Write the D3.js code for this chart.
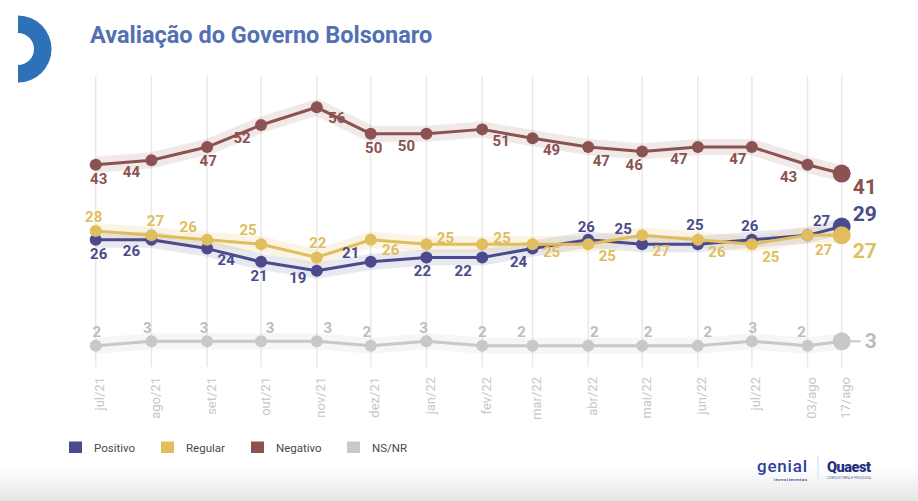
<!DOCTYPE html>
<html>
<head>
<meta charset="utf-8">
<script src="https://cdn.jsdelivr.net/npm/d3@7"></script>
<style>
  html, body { margin: 0; padding: 0; background: #fff; }
  svg { display: block; font-family: Roboto, "Noto Sans", sans-serif; }
</style>
</head>
<body>
<svg id="chart" width="918" height="501"></svg>
<script>
// ---------------- DATA ----------------
const tickLabels = ["jul/21","ago/21","set/21","out/21","nov/21","dez/21","jan/22","fev/22","mar/22","abr/22","mai/22","jun/22","jul/22","03/ago","17/ago"];
// survey dates as placed on the time axis (last point sits ~19 days after 03/ago in the picture)
const dates = ["2021-07-03","2021-08-03","2021-09-03","2021-10-03","2021-11-03","2021-12-03","2022-01-03","2022-02-03","2022-03-03","2022-04-03","2022-05-03","2022-06-03","2022-07-03","2022-08-03","2022-08-22"];
const positivo = [26,26,24,21,19,21,22,22,24,26,25,25,26,27,29];
const regular  = [28,27,26,25,22,26,25,25,25,25,27,26,25,27,27];
const negativo = [43,44,47,52,56,50,50,51,49,47,46,47,47,43,41];
const nsnr     = [2,3,3,3,3,2,3,2,2,2,2,2,3,2,3];
const seriesNames = ["Positivo","Regular","Negativo","NS/NR"];

// ---------------- LAYOUT / STYLE ----------------
const colors = {"Positivo":"#4b4a8d","Regular":"#e0bd5d","Negativo":"#8a5351","NS/NR":"#c8c8c8"};
const labelColors = {"Positivo":"#4b4a8d","Regular":"#e0bd5d","Negativo":"#8a5351","NS/NR":"#bdbdbd"};
// label offsets [dx, dy(baseline)] relative to each point (all but the last)
const labelOffsets = {
  "Negativo": [[3,19],[-20,17],[1,19],[-19,18],[20,16],[3,19],[-20,17],[19,17],[19,17],[13,19],[-8,19],[-19,17],[-14,17],[-19,17]],
  "Regular":  [[-2,-9],[4,-9],[-19,-8],[-13,-9],[1,-9],[20,15],[19,-1],[20,-1],[19,13],[19,17],[19,21],[19,17],[19,18],[16,20]],
  "Positivo": [[3,19],[-20,16],[19,16],[-2,19],[-19,12],[-20,-4],[-4,19],[-19,19],[-14,18],[-2,-8],[-19,-10],[-3,-14],[-2,-9],[14,-9]],
  "NS/NR":    [[1,-8.5],[-4,-8.5],[-3,-8.5],[9,-8.5],[11,-8.5],[-4,-8.5],[-3,-8.5],[0,-8.5],[-11,-8.5],[6,-8.5],[6,-8.5],[10,-8.5],[1,-8.5],[-6,-8.5]]
};
const lastOffsets = {"Negativo":[11,20.5],"Positivo":[11,-5.5],"Regular":[11,22.5],"NS/NR":[23,7]};

const parse = d3.timeParse("%Y-%m-%d");
const dateObjs = dates.map(parse);

const svg = d3.select("#chart");

const x = d3.scaleTime()
  .domain([dateObjs[0], dateObjs[dateObjs.length - 1]])
  .range([95.7, 841.7]);
const y = d3.scaleLinear().domain([0, 60]).range([354.55, 89.64]);

// bottom gradient band
const defs = svg.append("defs");
const grad = defs.append("linearGradient").attr("id","bottomGrad").attr("x1",0).attr("y1",0).attr("x2",0).attr("y2",1);
grad.append("stop").attr("offset","0%").attr("stop-color","#ffffff");
grad.append("stop").attr("offset","100%").attr("stop-color","#e4e4e4");
svg.append("rect").attr("x",0).attr("y",468).attr("width",918).attr("height",33).attr("fill","url(#bottomGrad)");

// logo ring (left)
svg.append("path")
  .attr("transform","translate(18,49)")
  .attr("d", d3.arc()({innerRadius:16, outerRadius:33.5, startAngle:0, endAngle:Math.PI}))
  .attr("fill","#2f71b7");

// title
svg.append("text")
  .attr("x", 90).attr("y", 43)
  .attr("font-size", 23.5).attr("font-weight", 700)
  .attr("fill", "#5270b3")
  .text("Avaliação do Governo Bolsonaro");

// vertical gridlines
svg.append("g").selectAll("line")
  .data(dateObjs).join("line")
  .attr("x1", d => x(d)).attr("x2", d => x(d))
  .attr("y1", 75.7).attr("y2", 367)
  .attr("stroke", "#e9e9e9").attr("stroke-width", 1.5);

// x-axis tick labels (rotated)
svg.append("g").selectAll("text")
  .data(dateObjs).join("text")
  .attr("transform", d => `translate(${x(d) + 8.5},377) rotate(-90)`)
  .attr("text-anchor", "end")
  .attr("font-size", 13)
  .attr("fill", "#c6c6c6")
  .text((d, i) => tickLabels[i]);

const seriesData = {"Positivo": positivo, "Regular": regular, "Negativo": negativo, "NS/NR": nsnr};
const drawOrder = ["NS/NR","Negativo","Positivo","Regular"];

const line = d3.line().x((d, i) => x(dateObjs[i])).y(d => y(d));

// halos
const haloOpacity = {"Positivo":0.13,"Regular":0.16,"Negativo":0.13,"NS/NR":0.17};
drawOrder.forEach(name => {
  svg.append("path")
    .attr("d", line(seriesData[name]))
    .attr("fill", "none")
    .attr("stroke", colors[name])
    .attr("stroke-opacity", haloOpacity[name])
    .attr("stroke-width", 16)
    .attr("stroke-linejoin", "round");
});

// lines, points
drawOrder.forEach(name => {
  const vals = seriesData[name];
  const g = svg.append("g");
  g.append("path")
    .attr("d", line(vals))
    .attr("fill", "none")
    .attr("stroke", colors[name])
    .attr("stroke-width", 3)
    .attr("stroke-linejoin", "round");
  if (name === "NS/NR") {
    const lx = x(dateObjs[vals.length - 1]), ly = y(vals[vals.length - 1]);
    g.append("line").attr("x1", lx + 8).attr("x2", lx + 19).attr("y1", ly).attr("y2", ly)
      .attr("stroke", colors[name]).attr("stroke-width", 2);
  }
  g.selectAll("circle")
    .data(vals).join("circle")
    .attr("cx", (d, i) => x(dateObjs[i]))
    .attr("cy", d => y(d))
    .attr("r", (d, i) => i === vals.length - 1 ? 9 : 6)
    .attr("fill", colors[name]);
});

// labels
drawOrder.forEach(name => {
  const vals = seriesData[name];
  const g = svg.append("g").attr("font-weight", 700).attr("fill", labelColors[name]);
  g.selectAll("text")
    .data(vals).join("text")
    .attr("x", (d, i) => x(dateObjs[i]) + (i === vals.length - 1 ? lastOffsets[name][0] : labelOffsets[name][i][0]))
    .attr("y", (d, i) => y(d) + (i === vals.length - 1 ? lastOffsets[name][1] : labelOffsets[name][i][1]))
    .attr("text-anchor", (d, i) => i === vals.length - 1 ? "start" : "middle")
    .attr("font-size", (d, i) => i === vals.length - 1 ? 21 : 15)
    .text(d => d);
});

// legend
const legendX = [69, 161, 251, 347];
const legend = svg.append("g");
seriesNames.forEach((name, i) => {
  legend.append("rect")
    .attr("x", legendX[i]).attr("y", 441.5).attr("width", 13).attr("height", 11.5)
    .attr("fill", colors[name]);
  legend.append("text")
    .attr("x", legendX[i] + 25).attr("y", 451.5)
    .attr("font-size", 11.5).attr("fill", "#4a4a4a")
    .text(name);
});

// sponsor logos (bottom right)
const logos = svg.append("g");
logos.append("text").attr("x", 757).attr("y", 471.5).attr("font-size", 17).attr("font-weight", 500)
  .attr("fill", "#2c3f9f").attr("textLength", 50).text("genial");
logos.append("text").attr("x", 774).attr("y", 480.5).attr("font-size", 4).attr("font-weight", 700)
  .attr("fill", "#2c3f9f").attr("textLength", 33).text("investimentos");
logos.append("line").attr("x1", 818).attr("x2", 818).attr("y1", 456).attr("y2", 479)
  .attr("stroke", "#dde7f2").attr("stroke-width", 1.5);
logos.append("text").attr("x", 827).attr("y", 472).attr("font-size", 14.5).attr("font-weight", 900)
  .attr("fill", "#23307c").attr("textLength", 44).text("Quaest");
logos.append("text").attr("x", 827).attr("y", 478.5).attr("font-size", 3.6)
  .attr("fill", "#5a6390").attr("textLength", 44).text("CONSULTORIA E PESQUISA");
</script>
</body>
</html>
